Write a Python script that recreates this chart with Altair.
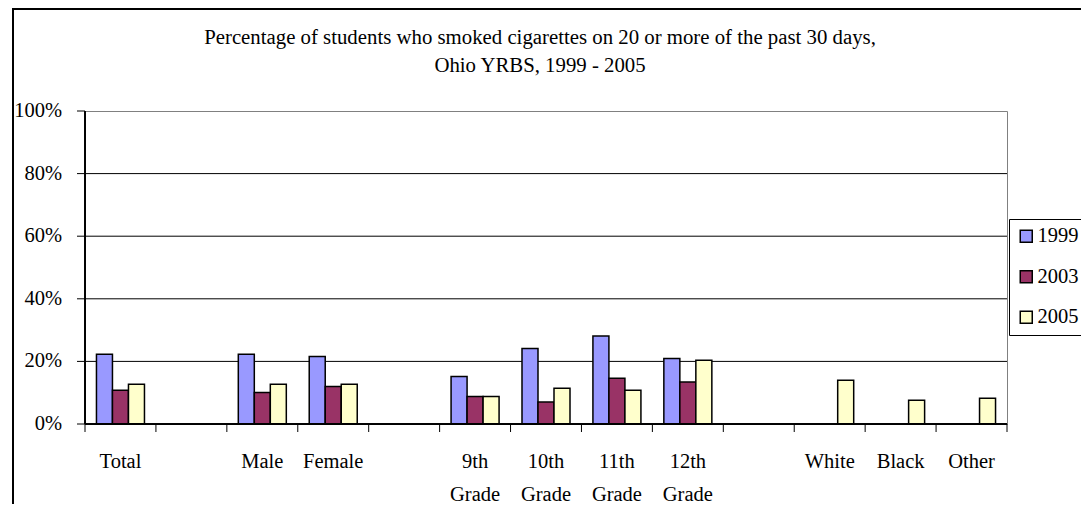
import altair as alt
import pandas as pd

FONT = "Liberation Serif"
FS = 20.5

# slots on the x axis (gap slots are left empty, as in the original)
categories = ["Total", "gap1", "Male", "Female", "gap2",
              "9th|Grade", "10th|Grade", "11th|Grade", "12th|Grade", "gap3",
              "White", "Black", "Other"]
slot_labels = ["Total", "", "Male", "Female", "",
               "9th|Grade", "10th|Grade", "11th|Grade", "12th|Grade", "",
               "White", "Black", "Other"]
data_cats = ["Total", "Male", "Female", "9th|Grade", "10th|Grade",
             "11th|Grade", "12th|Grade", "White", "Black", "Other"]
years = ["1999", "2003", "2005"]
v1999 = [22.3, 22.3, 21.6, 15.2, 24.1, 28.1, 20.9, None, None, None]
v2003 = [10.8, 10.1, 12.0, 8.8, 7.0, 14.6, 13.4, None, None, None]
v2005 = [12.7, 12.7, 12.7, 8.8, 11.4, 10.8, 20.4, 14.0, 7.6, 8.2]
colors = ["#9999FF", "#993366", "#FFFFCC"]
y_ticks = [0, 20, 40, 60, 80, 100]
y_tick_labels = ["0%", "20%", "40%", "60%", "80%", "100%"]
grid_values = [20, 40, 60, 80]
title_line1 = "Percentage of students who smoked cigarettes on 20 or more of the past 30 days,"
title_line2 = "Ohio YRBS, 1999 - 2005"

rows = []
for yr, vals in zip(years, [v1999, v2003, v2005]):
    for c, v in zip(data_cats, vals):
        if v is not None:
            rows.append({"category": c, "year": yr, "value": v})
df = pd.DataFrame(rows)
slots = pd.DataFrame({"category": categories, "label": slot_labels})
ydf = pd.DataFrame({"v": y_ticks, "label": y_tick_labels})
gdf = pd.DataFrame({"v": grid_values})
last_slot = pd.DataFrame({"category": [categories[-1]]})

W, H = 922, 313
xscale = alt.Scale(domain=categories, paddingInner=0, paddingOuter=0)
yscale = alt.Scale(domain=[0, 100])

bars = alt.Chart(df).mark_bar(stroke="black", strokeWidth=1.5).encode(
    x=alt.X("category:N", scale=xscale, axis=None),
    xOffset=alt.XOffset("year:N", sort=years,
                        scale=alt.Scale(paddingInner=0, paddingOuter=0.716)),
    y=alt.Y("value:Q", scale=yscale, axis=None),
    color=alt.Color("year:N", sort=years,
                    scale=alt.Scale(domain=years, range=colors),
                    legend=alt.Legend(title=None, orient="none", legendX=924, legendY=108,
                                      symbolType="square", symbolSize=144,
                                      symbolStrokeColor="black", symbolStrokeWidth=1.5,
                                      labelFont=FONT, labelFontSize=FS, labelColor="black",
                                      rowPadding=19.5, padding=7, strokeColor="black",
                                      fillColor="white", labelOffset=1, direction="vertical")),
)

grid = alt.Chart(gdf).mark_rule(color="black", strokeWidth=1).encode(
    y=alt.Y("v:Q", scale=yscale, axis=None), x=alt.value(0), x2=alt.value(W)
)
y_ticks_m = alt.Chart(ydf).mark_rule(color="black", strokeWidth=1).encode(
    y=alt.Y("v:Q", scale=yscale, axis=None), x=alt.value(-8), x2=alt.value(0)
)
y_labels = alt.Chart(ydf).mark_text(font=FONT, fontSize=FS, color="black",
                                    align="right", baseline="middle").encode(
    y=alt.Y("v:Q", scale=yscale, axis=None), x=alt.value(-23), text="label:N"
)
y_domain = alt.Chart(ydf).mark_rule(color="black", strokeWidth=1).encode(
    x=alt.value(0), y=alt.value(0), y2=alt.value(H)
)
x_domain = alt.Chart(ydf).mark_rule(color="black", strokeWidth=1).encode(
    y=alt.value(H), x=alt.value(0), x2=alt.value(W)
)
x_ticks_m = alt.Chart(slots).mark_rule(color="black", strokeWidth=1).encode(
    x=alt.X("category:N", scale=xscale, axis=None, bandPosition=0),
    y=alt.value(H), y2=alt.value(H + 8)
)
x_tick_end = alt.Chart(last_slot).mark_rule(color="black", strokeWidth=1).encode(
    x=alt.X("category:N", scale=xscale, axis=None, bandPosition=1),
    y=alt.value(H), y2=alt.value(H + 8)
)
x_labels = alt.Chart(slots).mark_text(font=FONT, fontSize=FS, color="black",
                                      align="center", baseline="alphabetic",
                                      lineBreak="|", lineHeight=32.5).encode(
    x=alt.X("category:N", scale=xscale, axis=None),
    y=alt.value(357.3), text="label:N"
)

one = alt.Data(values=[{"k": 1}])
frame = alt.Chart(one).mark_rect(filled=False, stroke="black", strokeWidth=2).encode(
    x=alt.value(-72), x2=alt.value(1300), y=alt.value(-102), y2=alt.value(700)
)
t1 = alt.Chart(one).mark_text(font=FONT, fontSize=20.8, color="black",
                              align="center", baseline="alphabetic").encode(
    x=alt.value(455), y=alt.value(-67.5), text=alt.value(title_line1)
)
t2 = alt.Chart(one).mark_text(font=FONT, fontSize=20.8, color="black",
                              align="center", baseline="alphabetic").encode(
    x=alt.value(455), y=alt.value(-39.1), text=alt.value(title_line2)
)

chart = alt.layer(frame, t1, t2, grid, bars, x_domain, y_domain,
                  y_ticks_m, y_labels, x_ticks_m, x_tick_end, x_labels).properties(
    width=W, height=H,
    autosize=alt.AutoSizeParams(type="none"),
    padding={"left": 77, "top": 103, "right": 74, "bottom": 80},
    background="white",
).configure_view(stroke="#808080", strokeWidth=1)

chart.save("out.html", embed_options={"renderer": "svg", "actions": False})
